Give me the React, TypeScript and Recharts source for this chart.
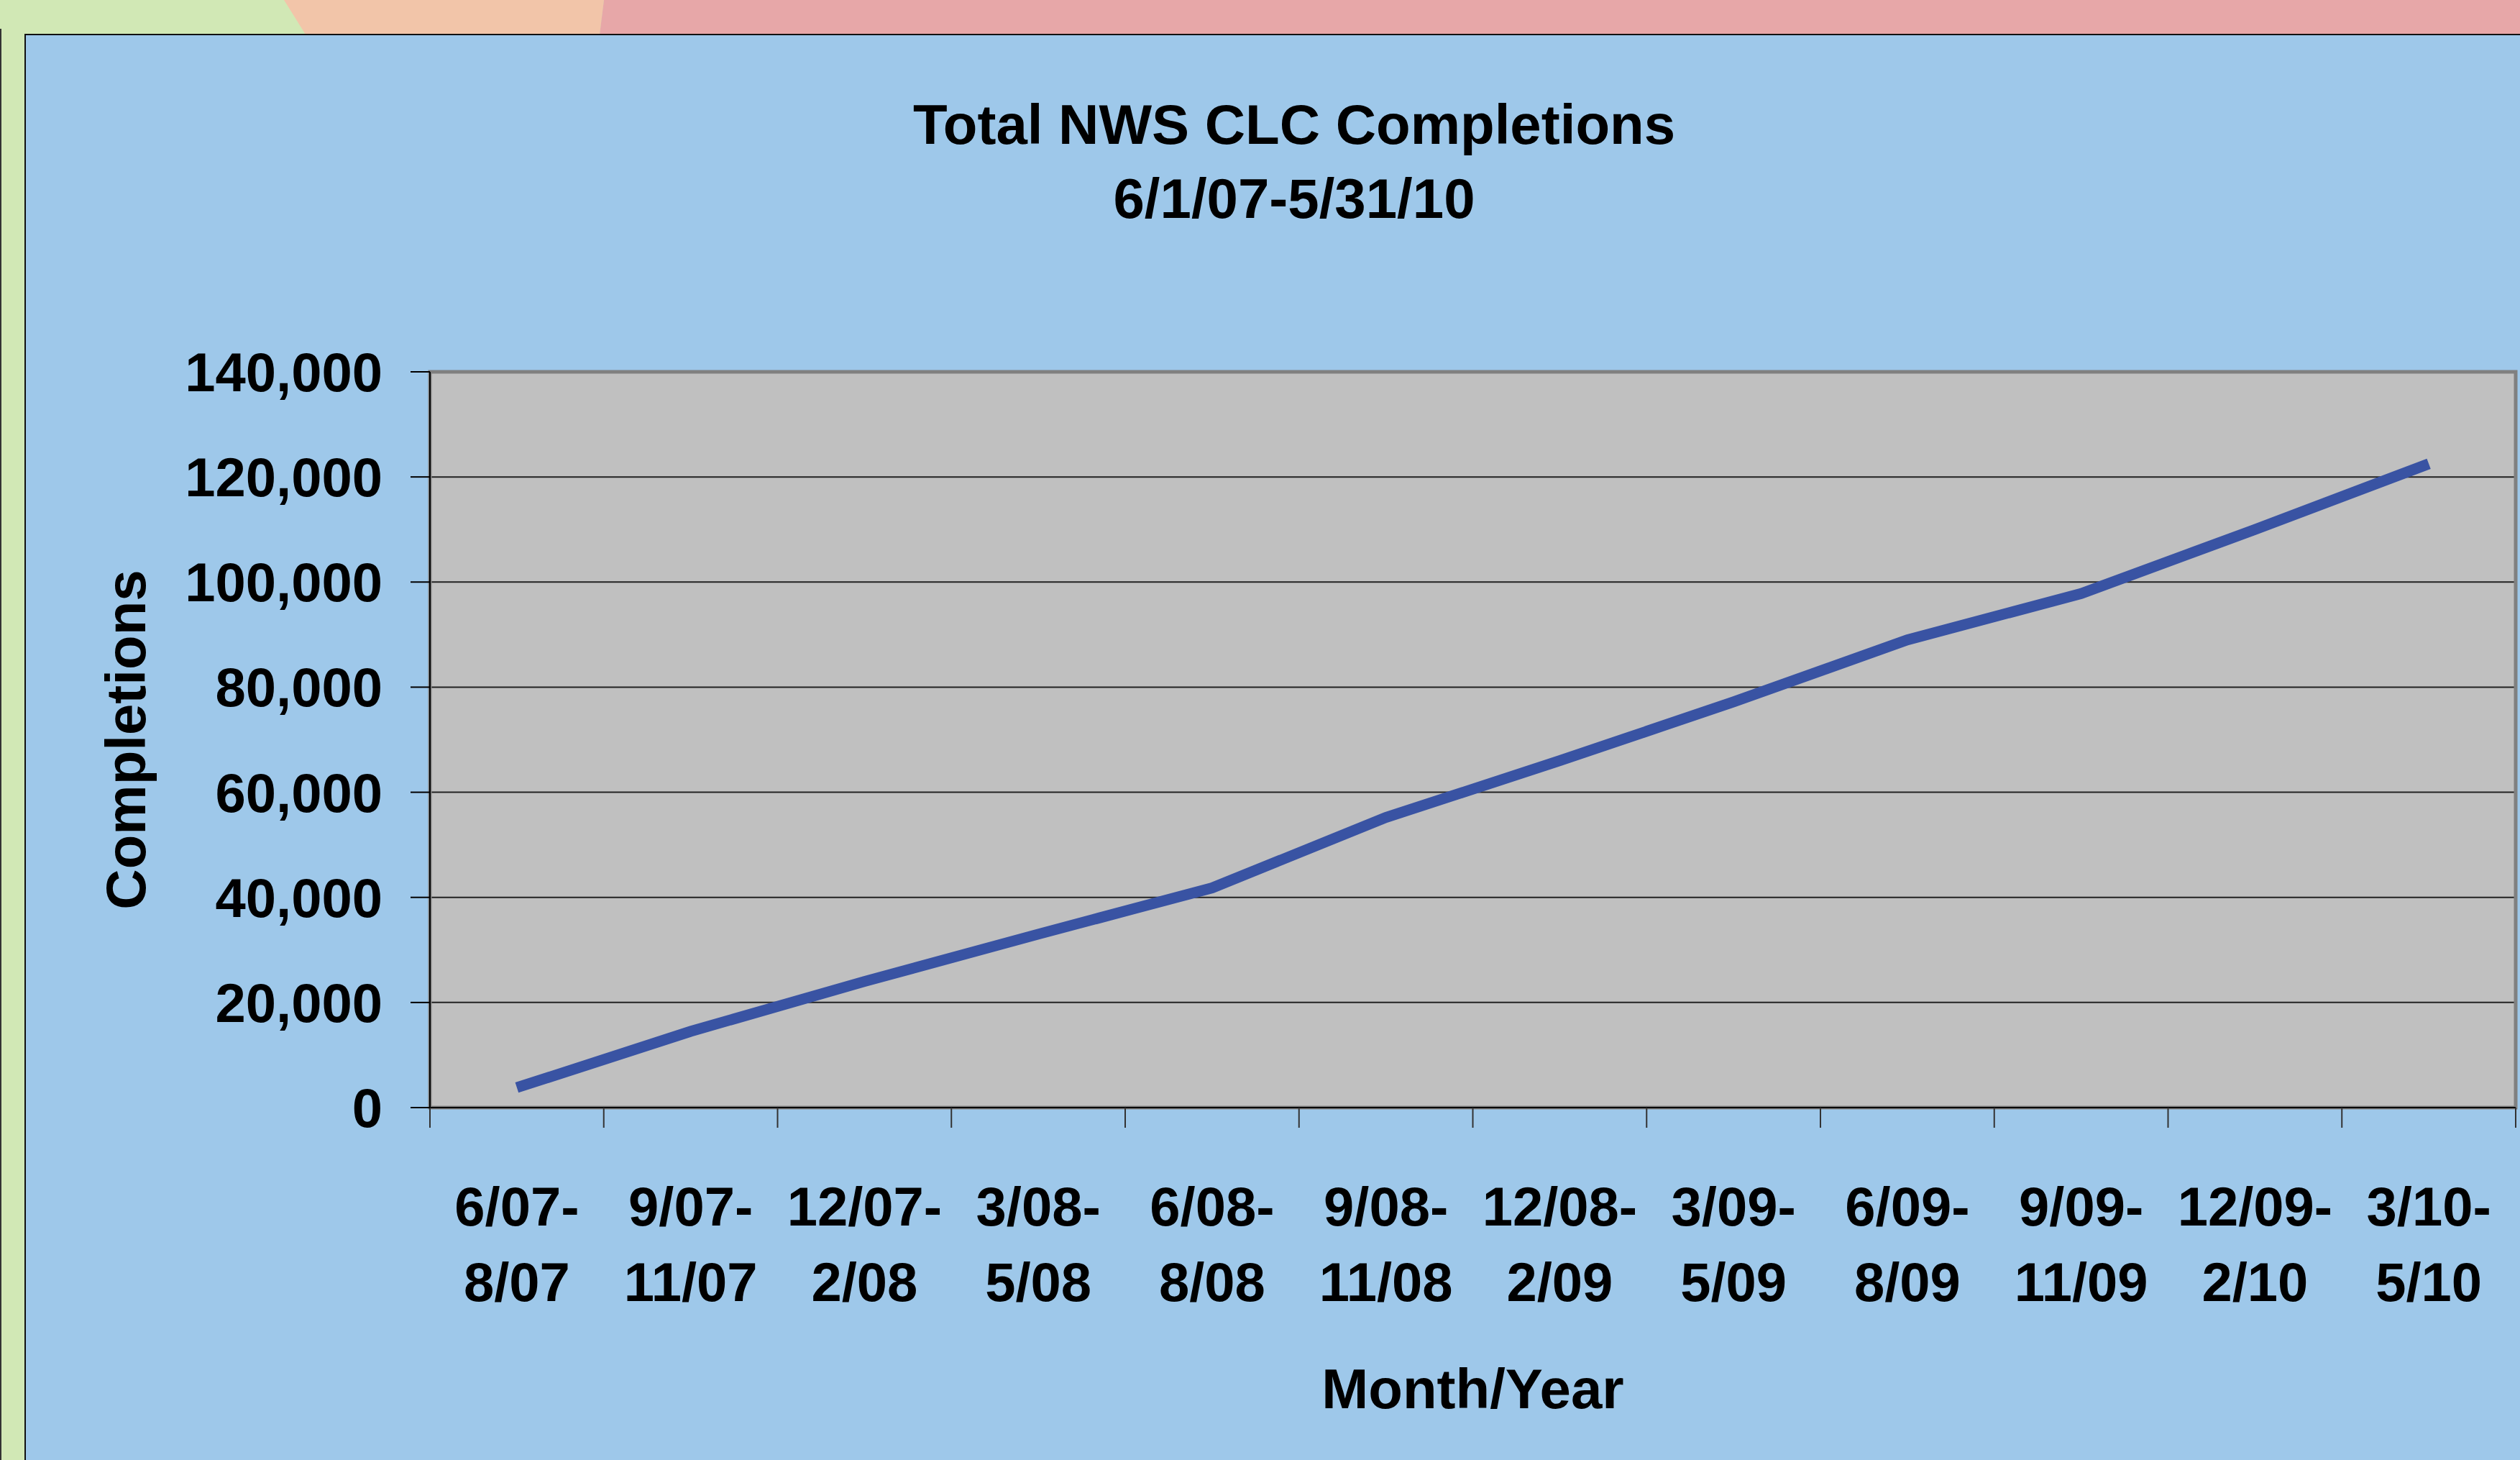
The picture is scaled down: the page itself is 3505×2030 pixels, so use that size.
import { LineChart, Line, XAxis, YAxis, CartesianGrid, ReferenceArea } from 'recharts'

const PERIOD_START = ['6/07-', '9/07-', '12/07-', '3/08-', '6/08-', '9/08-', '12/08-', '3/09-', '6/09-', '9/09-', '12/09-', '3/10-']
const PERIOD_END = ['8/07', '11/07', '2/08', '5/08', '8/08', '11/08', '2/09', '5/09', '8/09', '11/09', '2/10', '5/10']
const COMPLETIONS = [3800, 14500, 24000, 33000, 41800, 55200, 66000, 77200, 89000, 97800, 110000, 122500]
const Y_TICKS = [0, 20000, 40000, 60000, 80000, 100000, 120000, 140000]

// x is the category slot (centre of each period)
const data = COMPLETIONS.map((v, i) => ({ x: i + 0.5, label: PERIOD_START[i], completions: v }))
const EDGE_TICKS = PERIOD_START.map((_, i) => i).concat(PERIOD_START.length)
const CENTER_TICKS = data.map((d) => d.x)

const FONT = '"Liberation Sans", Arial, Helvetica, sans-serif'

const PeriodTick = ({ x, y, payload }: any) => {
  const i = Math.floor(payload.value)
  return (
    <text x={x} y={y} textAnchor="middle" fontFamily={FONT} fontWeight="bold" fontSize={76} fill="#000">
      <tspan x={x} dy={163}>{PERIOD_START[i]}</tspan>
      <tspan x={x} dy={105}>{PERIOD_END[i]}</tspan>
    </text>
  )
}

// boundary ticks carry no text, only the tick mark
const NoLabel = () => <g />

export default function App() {
  return (
    <div style={{ position: 'absolute', left: 0, top: 0, width: 3505, height: 2030, overflow: 'hidden', background: '#D1E8B5' }}>
      <svg width={3505} height={48} style={{ position: 'absolute', left: 0, top: 0 }}>
        <polygon points="395,0 840,0 834,48 425,48" fill="#F2C5A9" />
        <polygon points="840,0 3505,0 3505,48 834,48" fill="#E7A7A8" />
      </svg>
      <div style={{ position: 'absolute', left: 0, top: 40, width: 2, height: 2000, background: '#333' }} />
      <div
        style={{
          position: 'absolute', left: 34, top: 47, width: 3600, height: 2100,
          background: '#9EC8EA', borderLeft: '2px solid #111', borderTop: '2px solid #111', boxSizing: 'border-box',
        }}
      />
      <div
        style={{
          position: 'absolute', left: 1800 - 700, top: 122, width: 1400, textAlign: 'center',
          fontFamily: FONT, fontWeight: 'bold', fontSize: 78, lineHeight: '103px', color: '#000',
        }}
      >
        <div>Total NWS CLC Completions</div>
        <div>6/1/07-5/31/10</div>
      </div>
      <div style={{ position: 'absolute', left: 0, top: 0 }}>
        <LineChart width={3505} height={2030} data={data} margin={{ top: 517, right: 6, left: 40, bottom: 40 }}>
          <CartesianGrid xAxisId="a-edge" vertical={false} fill="#C0C0C0" fillOpacity={1} stroke="#222" strokeWidth={2} />
          <ReferenceArea xAxisId="a-edge" x1={0} x2={12} y1={0} y2={140000} fill="none" stroke="#808080" strokeWidth={5} ifOverflow="visible" />
          <XAxis
            xAxisId="b-cat"
            dataKey="x"
            type="number"
            domain={[0, 12]}
            ticks={CENTER_TICKS}
            interval={0}
            axisLine={false}
            tickLine={false}
            tickSize={0}
            tickMargin={0}
            tick={<PeriodTick />}
            height={449}
            label={{
              value: 'Month/Year', position: 'insideBottom', offset: 32,
              style: { fontFamily: FONT, fontWeight: 'bold', fontSize: 78, fill: '#000' },
            }}
          />
          <XAxis
            xAxisId="a-edge"
            dataKey="x"
            type="number"
            domain={[0, 12]}
            ticks={EDGE_TICKS}
            interval={0}
            tick={<NoLabel />}
            tickLine={{ stroke: '#333', strokeWidth: 2 }}
            tickSize={28}
            height={1}
            stroke="#000"
            strokeWidth={2}
          />
          <YAxis
            type="number"
            domain={[0, 140000]}
            ticks={Y_TICKS}
            interval={0}
            width={558}
            tickSize={27}
            tickMargin={39}
            stroke="#000"
            strokeWidth={2}
            tickFormatter={(v: number) => v.toLocaleString('en-US')}
            tick={{ fontFamily: FONT, fontWeight: 'bold', fontSize: 76, fill: '#000' }}
            label={{
              value: 'Completions', angle: -90, position: 'insideLeft', offset: 134,
              style: { textAnchor: 'middle', fontFamily: FONT, fontWeight: 'bold', fontSize: 78, fill: '#000' },
            }}
          />
          <Line
            xAxisId="b-cat"
            dataKey="completions"
            type="linear"
            stroke="#3953A3"
            strokeWidth={15}
            dot={false}
            activeDot={false}
            isAnimationActive={false}
          />
        </LineChart>
      </div>
    </div>
  )
}
